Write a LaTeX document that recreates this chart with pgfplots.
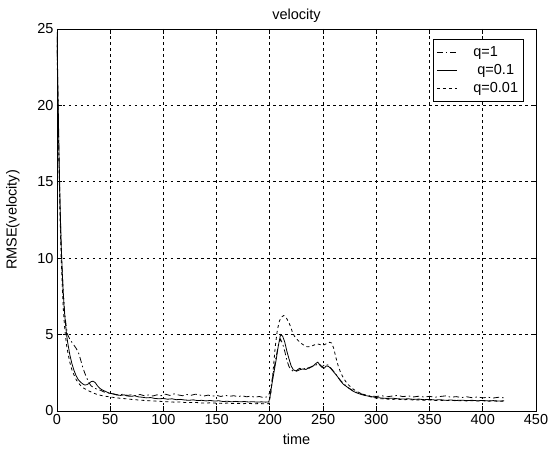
\documentclass[border=0pt]{standalone}
\usepackage{fontspec}
\setmainfont{Liberation Sans}
\usepackage{pgfplots}
\pgfplotsset{compat=1.18}

\begin{document}
\begin{tikzpicture}
\begin{axis}[
  name=ax,
  scale only axis,
  width=479bp, height=382bp,
  xmin=0, xmax=450, ymin=0, ymax=25,
  xtick={0,50,...,450}, ytick={0,5,...,25},
  tick align=inside,
  major tick length=5bp,
  tick style={black, line width=0.8bp},
  axis line style={black, line width=0.9bp},
  grid=major,
  grid style={black, line width=0.8bp, dash pattern=on 2.5bp off 3.5bp},
  font=\fontsize{14.5bp}{17bp}\selectfont,
  /pgf/number format/assume math mode=true,
  title={velocity},
  title style={yshift=-3bp},
  xlabel={time},
  ylabel={RMSE(velocity)},
  xlabel style={yshift=-2bp},
  ylabel style={yshift=11bp},
  legend style={
    at={(rel axis cs:0.974,0.974)}, anchor=north east,
    draw=black, line width=0.9bp, fill=white,
    font=\fontsize{14.5bp}{17bp}\selectfont,
    row sep=2.5bp, inner xsep=3bp, inner ysep=5bp,
    /tikz/every odd column/.append style={column sep=14bp},
  },
  legend cell align=left,
  legend image code/.code={\draw[#1, line width=0.8bp] (0bp,0bp) -- (20bp,0bp);},
  every axis plot/.append style={black, line width=0.8bp},
]
% q = 1 : dash-dot
\addplot[dash pattern=on 6bp off 3bp on 1.5bp off 3bp] coordinates {
(0,24.5) (1,20) (2,16) (3,13) (4,10.6) (5,8.9) (6,7.6) (7,6.6) (8,5.9) (9,5.4)
(10,5.0) (12,4.7) (14,4.5) (16,4.3) (18,4.1) (20,3.85) (22,3.4) (24,2.9) (26,2.5)
(28,2.15) (30,1.85) (32,1.65) (35,1.5) (38,1.42) (41,1.35) (44,1.25) (47,1.2)
(50,1.15) (54,1.1) (58,1.05) (62,1.1) (66,1.02) (70,1.06) (74,1.0) (78,1.08)
(82,1.0) (86,1.05) (90,0.98) (94,1.06) (98,1.0) (102,1.1) (106,1.02) (110,1.12)
(114,1.05) (118,1.0) (122,1.08) (126,1.03) (130,1.1) (134,1.05) (138,0.98)
(142,1.04) (146,0.97) (150,1.02) (154,0.95) (158,1.03) (162,0.96) (166,1.0)
(170,0.94) (174,1.0) (178,0.93) (182,0.97) (186,0.9) (190,0.95) (194,0.88)
(197,0.92) (200,1.2) (202,2.0) (204,2.8) (206,3.6) (208,4.3) (210,4.7) (212,4.4)
(214,3.9) (216,3.3) (218,2.9) (220,2.7) (222,2.6) (225,2.65) (228,2.8) (231,2.7)
(234,2.85) (237,2.8) (240,2.95) (243,3.0) (246,3.1) (249,2.9) (252,3.05)
(255,3.0) (258,2.75) (261,2.5) (264,2.2) (267,1.95) (270,1.75) (273,1.55)
(276,1.42) (279,1.3) (283,1.18) (287,1.1) (291,1.02) (295,0.98) (300,0.95)
(305,1.0) (310,0.93) (315,0.98) (320,1.02) (325,0.94) (330,0.99) (335,0.92)
(340,0.97) (345,0.91) (350,0.96) (355,0.9) (360,0.95) (365,0.99) (370,0.9)
(375,0.94) (380,0.88) (385,0.93) (390,0.87) (395,0.92) (400,0.86) (405,0.9)
(410,0.85) (415,0.9) (420,0.86)
};
\addlegendentry{q=1}
% q = 0.1 : solid
\addplot[solid] coordinates {
(0,24.8) (1,20.5) (2,16.5) (3,13.2) (4,10.8) (5,9.0) (6,7.6) (7,6.5) (8,5.7)
(9,5.0) (10,4.5) (12,3.7) (14,3.1) (16,2.65) (18,2.3) (20,2.05) (22,1.9) (24,1.78)
(26,1.7) (28,1.72) (30,1.8) (32,1.92) (34,1.95) (36,1.85) (38,1.65) (40,1.5)
(42,1.4) (45,1.3) (48,1.2) (50,1.15) (53,1.12) (56,1.05) (60,1.02) (63,1.06)
(66,0.98) (70,0.96) (73,1.0) (76,0.93) (80,0.9) (84,0.86) (88,0.88) (92,0.82)
(96,0.8) (100,0.82) (104,0.77) (108,0.8) (112,0.74) (116,0.76) (120,0.72)
(124,0.7) (128,0.73) (132,0.68) (136,0.7) (140,0.66) (144,0.69) (148,0.65)
(152,0.67) (156,0.62) (160,0.64) (164,0.6) (168,0.63) (172,0.6) (176,0.62)
(180,0.59) (184,0.61) (188,0.58) (192,0.6) (196,0.58) (199,0.6) (200,0.9)
(202,1.8) (204,2.6) (206,3.4) (208,4.3) (210,5.0) (212,4.9) (214,4.5) (216,3.9)
(218,3.4) (220,2.95) (222,2.7) (225,2.6) (228,2.7) (231,2.75) (234,2.72)
(237,2.85) (240,2.9) (243,3.1) (245,3.2) (247,3.0) (249,2.85) (251,2.8)
(253,2.95) (255,2.92) (257,2.8) (260,2.55) (263,2.3) (266,2.0) (269,1.75)
(272,1.6) (275,1.45) (278,1.3) (281,1.2) (285,1.1) (289,1.02) (293,0.97)
(297,0.92) (300,0.88) (305,0.85) (310,0.82) (315,0.84) (320,0.8) (325,0.78)
(330,0.8) (335,0.76) (340,0.78) (345,0.74) (350,0.76) (355,0.72) (360,0.74)
(365,0.7) (370,0.72) (375,0.69) (380,0.71) (385,0.68) (390,0.7) (395,0.67)
(400,0.69) (405,0.66) (410,0.68) (415,0.65) (420,0.67)
};
\addlegendentry{\ q=0.1}
% q = 0.01 : dotted
\addplot[dash pattern=on 3bp off 3bp] coordinates {
(0,24) (1,19.5) (2,15.5) (3,12.3) (4,9.8) (5,8.0) (6,6.6) (7,5.6) (8,4.9)
(9,4.3) (10,3.9) (12,3.2) (14,2.7) (16,2.35) (18,2.05) (20,1.85) (22,1.68)
(25,1.5) (28,1.38) (31,1.28) (34,1.18) (37,1.1) (40,1.04) (44,0.98) (48,0.94)
(52,0.9) (56,0.86) (60,0.83) (65,0.8) (70,0.76) (75,0.73) (80,0.7) (85,0.68)
(90,0.66) (95,0.64) (100,0.62) (105,0.6) (110,0.58) (115,0.59) (120,0.56)
(125,0.55) (130,0.56) (135,0.53) (140,0.52) (145,0.54) (150,0.51) (155,0.5)
(160,0.52) (165,0.49) (170,0.5) (175,0.48) (180,0.5) (185,0.47) (190,0.49)
(195,0.47) (199,0.48) (201,1.2) (203,2.6) (205,4.2) (207,5.3) (209,5.9)
(211,6.15) (213,6.25) (215,6.15) (217,5.9) (219,5.6) (221,5.2) (223,4.9)
(226,4.65) (229,4.45) (232,4.3) (235,4.2) (238,4.22) (241,4.3) (244,4.4)
(247,4.35) (250,4.3) (253,4.4) (256,4.5) (258,4.45) (260,4.1) (262,3.5)
(264,3.0) (266,2.6) (268,2.3) (271,1.95) (274,1.7) (277,1.5) (280,1.35)
(284,1.2) (288,1.08) (292,0.98) (296,0.9) (300,0.84) (305,0.8) (310,0.78)
(315,0.76) (320,0.77) (325,0.74) (330,0.75) (335,0.72) (340,0.73) (345,0.7)
(350,0.72) (355,0.69) (360,0.7) (365,0.68) (370,0.7) (375,0.67) (380,0.68)
(385,0.66) (390,0.68) (395,0.65) (400,0.67) (405,0.64) (410,0.66) (415,0.63)
(420,0.65)
};
\addlegendentry{q=0.01\hspace{8bp}}
\end{axis}
\pgfresetboundingbox
\path (ax.south west) ++(-57bp,-41bp) rectangle ++(559bp,452bp);
\end{tikzpicture}
\end{document}
